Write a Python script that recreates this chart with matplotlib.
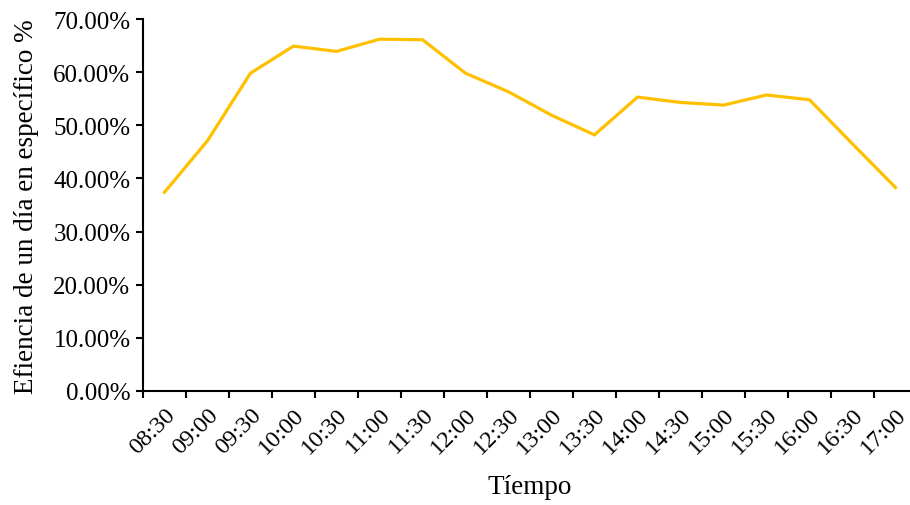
import matplotlib
matplotlib.use("Agg")
import matplotlib.pyplot as plt
from matplotlib.ticker import FuncFormatter, FixedLocator

times = ["08:30", "09:00", "09:30", "10:00", "10:30", "11:00", "11:30", "12:00", "12:30",
         "13:00", "13:30", "14:00", "14:30", "15:00", "15:30", "16:00", "16:30", "17:00"]
efficiency = [0.374, 0.471, 0.598, 0.649, 0.639, 0.662, 0.661, 0.598, 0.563,
              0.519, 0.482, 0.553, 0.543, 0.538, 0.557, 0.548, 0.465, 0.383]

plt.rcParams['font.family'] = ['Liberation Serif', 'DejaVu Serif']

fig = plt.figure(figsize=(9.10, 5.06), dpi=100)
W, H = 910, 506
left, right, top, bottom = 143, 917, 20, 392
ax = fig.add_axes([left / W, 1 - bottom / H, (right - left) / W, (bottom - top) / H])

x = list(range(len(times)))
ax.plot(x, efficiency, color="#FFC000", lw=2.3, solid_joinstyle="miter")

ax.set_xlim(-0.5, len(times) - 0.5)
ax.set_ylim(0, 0.70)
ax.set_yticks([i / 10 for i in range(8)])
ax.yaxis.set_major_formatter(FuncFormatter(lambda v, p: f"{v*100:.2f}%"))

ax.set_xticks(x)
ax.set_xticklabels(times, rotation=45, ha="right", va="top", rotation_mode="anchor")
ax.xaxis.set_minor_locator(FixedLocator([i - 0.5 for i in range(len(times) + 1)]))
ax.tick_params(axis="x", which="major", length=0, pad=9, labelsize=17.5)
ax.tick_params(axis="x", which="minor", length=5, width=1.5, direction="out")
ax.tick_params(axis="y", length=5, width=1.5, direction="out", labelsize=18, pad=4)

for s in ["top", "right"]:
    ax.spines[s].set_visible(False)
for s in ["left", "bottom"]:
    ax.spines[s].set_linewidth(1.5)

ax.set_ylabel("Efiencia de un día en específico %", fontsize=19.5)
ax.yaxis.set_label_coords(-(143 - 27) / (right - left), (392 - 207) / (bottom - top))
ax.yaxis.label.set_va("center")
ax.set_xlabel("Tíempo", fontsize=19.5)
ax.xaxis.set_label_coords((530 - left) / (right - left), -(488 - bottom) / (bottom - top))
ax.xaxis.label.set_va("center")

fig.savefig("out.png", dpi=100)
